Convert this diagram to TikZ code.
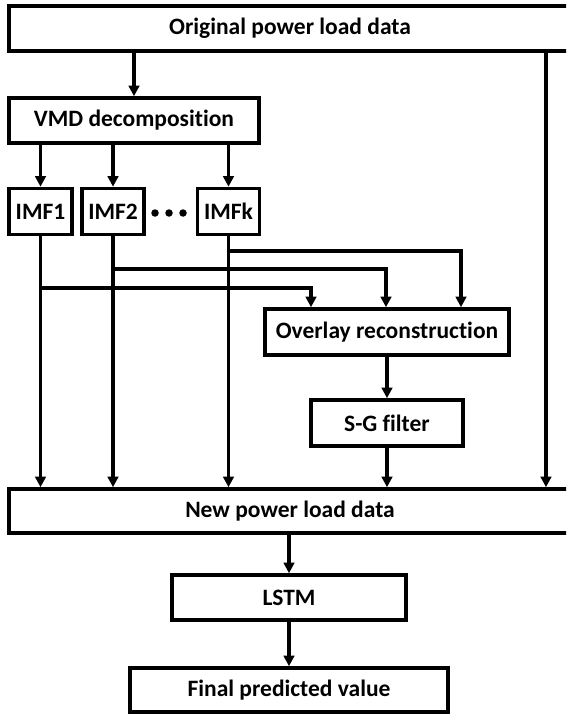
\documentclass[tikz,border=0pt]{standalone}
\usepackage{fontspec}
\setmainfont{Carlito}[Ligatures=NoCommon]
\usetikzlibrary{arrows.meta}
\begin{document}
\begin{tikzpicture}[x=1pt, y=-1pt,
  box/.style={draw, line width=3.6pt, rectangle, inner sep=0pt,
    font=\fontsize{23.5}{28}\selectfont\bfseries},
  arr/.style={line width=3.1pt, -{Triangle[length=10.5pt,width=10.5pt]}},
  dotmark/.style={circle, fill, inner sep=0pt, minimum size=7.5pt}]
\useasboundingbox (0,0) rectangle (566,714);
\clip (0,0) rectangle (566,714);

% boxes
\node[box, minimum width=562pt, minimum height=45pt] (orig) at (290,28.5) {Original power load data};
\node[box, minimum width=250pt, minimum height=45pt] (vmd) at (134,120.5) {VMD decomposition};
\node[box, minimum width=63pt, minimum height=46pt] (imf1) at (40.5,211.5) {IMF1};
\node[box, minimum width=62pt, minimum height=46pt] (imf2) at (113,211.5) {IMF2};
\node[box, minimum width=62pt, minimum height=46pt] (imfk) at (228.5,211.5) {IMFk};
\node[dotmark] (d1) at (155,213) {};
\node[dotmark] (d2) at (169,213) {};
\node[dotmark] (d3) at (183,213) {};
\node[box, minimum width=244pt, minimum height=46pt] (ovl) at (387,332) {Overlay reconstruction};
\node[box, minimum width=152pt, minimum height=46pt] (sg) at (387,423) {S-G filter};
\node[box, minimum width=562pt, minimum height=44pt] (newd) at (290,511) {New power load data};
\node[box, minimum width=234pt, minimum height=45pt] (lstm) at (289,597.5) {LSTM};
\node[box, minimum width=318pt, minimum height=44pt] (final) at (289,690) {Final predicted value};

% helper coordinates for branch lines
\coordinate (rx) at (546,0);
\coordinate (h1) at (0,288);
\coordinate (h2) at (0,269);
\coordinate (hk) at (0,251);
\coordinate (t1) at (311,0);
\coordinate (t2) at (386,0);
\coordinate (tk) at (461,0);

% connectors
\draw[arr] (orig.south -| vmd) -- (vmd.north);
\draw[arr] (vmd.south -| imf1) -- (imf1.north);
\draw[arr] (vmd.south -| imf2) -- (imf2.north);
\draw[arr] (vmd.south -| imfk) -- (imfk.north);

\draw[arr] (imf1.south) -- (imf1.south |- newd.north);
\draw[arr] (imf2.south) -- (imf2.south |- newd.north);
\draw[arr] (imfk.south) -- (imfk.south |- newd.north);

\draw[arr] (imf1.south |- h1) -- (t1 |- h1) -- (t1 |- ovl.north);
\draw[arr] (imf2.south |- h2) -- (t2 |- h2) -- (t2 |- ovl.north);
\draw[arr] (imfk.south |- hk) -- (tk |- hk) -- (tk |- ovl.north);

\draw[arr] (ovl.south) -- (sg.north);
\draw[arr] (sg.south) -- (sg.south |- newd.north);
\draw[arr] (rx |- orig.south) -- (rx |- newd.north);

\draw[arr] (newd.south -| lstm) -- (lstm.north);
\draw[arr] (lstm.south) -- (final.north);
\end{tikzpicture}
\end{document}
